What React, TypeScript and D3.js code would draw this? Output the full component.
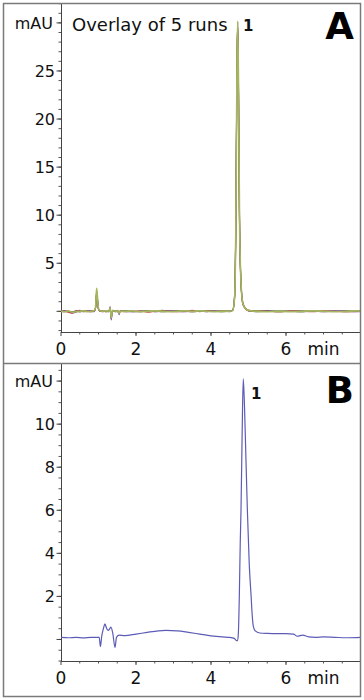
import React from "react";
import * as d3 from "d3";

// ---------- Data ----------
const tA = [0, 0.1, 0.2, 0.3, 0.4, 0.5, 0.6, 0.7, 0.8, 0.88,
  0.92, 0.95, 0.97, 1.0, 1.05, 1.1, 1.2, 1.28, 1.31, 1.34,
  1.37, 1.45, 1.52, 1.55, 1.58, 1.7, 1.9, 2.1, 2.3, 2.5,
  2.7, 2.9, 3.1, 3.3, 3.5, 3.7, 3.9, 4.1, 4.3, 4.5,
  4.58, 4.63, 4.66, 4.69, 4.71, 4.73, 4.76, 4.8, 4.85, 4.92,
  5.0, 5.2, 5.5, 5.8, 6.1, 6.4, 6.7, 7.0, 7.3, 7.6,
  7.9, 8.0];

const runA1 = [0.0, -0.05, 0.05, -0.1, -0.05, 0.0, 0.05, -0.05, 0.0, 0.05,
  0.4, 2.4, 1.6, 0.3, 0.05, 0.0, 0.05, 0.0, 0.4, -0.7,
  0.1, 0.0, 0.05, -0.2, 0.0, 0.0, 0.05, -0.05, 0.0, 0.05,
  0.0, -0.05, 0.0, 0.05, 0.0, 0.05, 0.0, -0.05, 0.0, 0.0,
  0.1, 1.5, 8.0, 24.0, 30.2, 25.0, 10.0, 3.0, 0.8, 0.3,
  0.1, 0.0, -0.05, 0.0, -0.05, 0.0, 0.05, 0.0, -0.05, 0.0,
  0.05, 0.0];
const runA2 = [0.05, 0.0, -0.1, -0.2, 0.0, 0.1, 0.0, 0.05, -0.05, 0.0,
  0.3, 1.8, 1.2, 0.2, 0.0, 0.05, -0.05, 0.05, 0.3, -0.5,
  0.0, 0.05, 0.0, -0.1, 0.05, -0.05, 0.0, 0.05, -0.1, 0.0,
  0.1, 0.0, -0.05, 0.0, 0.1, -0.05, 0.05, 0.0, 0.05, -0.05,
  0.15, 1.6, 8.3, 24.3, 30.0, 24.6, 9.6, 2.8, 0.7, 0.25,
  0.05, 0.05, 0.0, -0.05, 0.05, 0.0, -0.05, 0.05, 0.0, -0.05,
  0.0, 0.05];
const runA3 = [-0.05, 0.05, 0.0, -0.15, -0.1, 0.05, -0.05, 0.0, 0.05, -0.05,
  0.3, 1.9, 1.3, 0.25, 0.05, -0.05, 0.0, -0.05, 0.5, -0.9,
  0.05, -0.05, 0.1, -0.35, 0.05, 0.0, -0.05, 0.0, 0.05, -0.05,
  0.0, 0.05, 0.0, -0.05, 0.0, 0.0, -0.05, 0.05, 0.0, 0.05,
  0.1, 1.4, 7.8, 23.6, 30.1, 25.3, 10.2, 3.1, 0.9, 0.3,
  0.1, -0.05, 0.05, 0.0, 0.0, -0.05, 0.0, -0.05, 0.05, 0.0,
  -0.05, 0.0];
const runA4 = [0.0, 0.05, -0.05, -0.1, 0.05, -0.05, 0.0, 0.0, 0.05, 0.0,
  0.35, 2.0, 1.4, 0.25, 0.0, 0.0, 0.0, 0.05, 0.35, -0.8,
  0.05, 0.0, -0.05, -0.15, 0.0, 0.05, 0.0, -0.05, 0.0, 0.0,
  -0.05, 0.0, 0.05, 0.0, -0.05, 0.0, 0.05, 0.0, -0.05, 0.0,
  0.1, 1.7, 8.6, 24.5, 29.9, 24.4, 9.4, 2.9, 0.8, 0.3,
  0.05, 0.0, 0.05, -0.05, 0.0, 0.05, 0.0, 0.0, 0.0, 0.05,
  0.0, 0.0];
const runA5 = [0.05, -0.05, 0.0, -0.05, 0.0, -0.05, 0.05, 0.0, -0.05, 0.05,
  0.3, 2.1, 1.4, 0.2, 0.05, 0.0, -0.05, 0.0, 0.3, -0.6,
  0.0, 0.05, -0.05, -0.1, 0.0, 0.05, -0.05, 0.0, 0.05, -0.05,
  0.05, 0.0, 0.0, 0.05, -0.05, 0.05, 0.0, 0.0, 0.05, 0.0,
  0.12, 1.5, 8.2, 24.1, 30.1, 24.9, 9.9, 3.0, 0.8, 0.3,
  0.1, 0.05, 0.0, 0.05, 0.0, -0.05, 0.05, 0.0, 0.0, -0.05,
  0.05, 0.0];

const runsA = [runA4, runA2, runA3, runA5, runA1];
const runColors = ["#3c3c3c", "#c84848", "#8c3f9e", "#6f8a3e", "#a6b660"];

const tB = [0, 0.2, 0.4, 0.6, 0.8, 0.95, 1.02, 1.05, 1.09, 1.13,
  1.17, 1.22, 1.26, 1.3, 1.33, 1.38, 1.44, 1.48, 1.55, 1.7,
  2.0, 2.3, 2.6, 2.8, 3.1, 3.4, 3.7, 4.0, 4.3, 4.5,
  4.62, 4.68, 4.71, 4.73, 4.755, 4.78, 4.8, 4.83, 4.86, 4.89,
  4.93, 4.97, 5.02, 5.07, 5.1, 5.13, 5.18, 5.3, 5.5, 5.8,
  6.0, 6.2, 6.3, 6.45, 6.6, 6.8, 7.0, 7.3, 7.6, 8.0];
const vB = [0.1, 0.08, 0.1, 0.07, 0.1, 0.1, 0.1, -0.33, 0.2, 0.5,
  0.72, 0.5, 0.42, 0.5, 0.57, 0.3, -0.37, 0.1, 0.2, 0.18,
  0.25, 0.33, 0.4, 0.42, 0.4, 0.33, 0.25, 0.17, 0.12, 0.1,
  0.05, -0.05, -0.05, 0.3, 2.0, 4.5, 6.0, 9.5, 12.1, 11.0,
  8.5, 6.0, 3.5, 2.0, 1.1, 0.6, 0.4, 0.3, 0.28, 0.27,
  0.27, 0.25, 0.15, 0.2, 0.12, 0.1, 0.12, 0.1, 0.08, 0.1];

const xTickLabels = [0, 2, 4, 6];
const yTickLabelsA = [5, 10, 15, 20, 25];
const yTickLabelsB = [2, 4, 6, 8, 10];

// ---------- Layout ----------
const W = 364, H = 700;
const X0 = 61, X1 = 361;
const font = "'DejaVu Sans', Verdana, sans-serif";

type PanelProps = {
  top: number; bottom: number; yDomain: [number, number];
  minorStep: number; majorStep: number; yLabels: number[]; mauAt: number;
  letter: string; letterY: number;
  children: (x: d3.ScaleLinear<number, number>, y: d3.ScaleLinear<number, number>) => React.ReactNode;
};

function Panel({ top, bottom, yDomain, minorStep, majorStep, yLabels, mauAt, letter, letterY, children }: PanelProps) {
  const x = d3.scaleLinear().domain([0, 8]).range([X0, X1]);
  const y = d3.scaleLinear().domain(yDomain).range([bottom, top]);
  const minorY = d3.range(Math.ceil(yDomain[0] / minorStep) * minorStep, yDomain[1], minorStep);
  const majorY = d3.range(Math.ceil(yDomain[0] / majorStep) * majorStep, yDomain[1], majorStep);
  const minorX = d3.range(0.5, 8, 0.5);
  const id = "clip" + letter;
  return (
    <g>
      <defs>
        <clipPath id={id}>
          <rect x={X0} y={top} width={X1 - X0} height={bottom - top} />
        </clipPath>
      </defs>
      {minorY.map((v, i) => (
        <line key={"my" + i} x1={X0 - 2.5} x2={X0} y1={y(v)} y2={y(v)} stroke="#555" strokeWidth={1} />
      ))}
      {majorY.map((v, i) => (
        <line key={"My" + i} x1={X0 - 4.5} x2={X0} y1={y(v)} y2={y(v)} stroke="#444" strokeWidth={1} />
      ))}
      {yLabels.map((v) => (
        <text key={"yl" + v} x={X0 - 6} y={y(v)} dy="0.36em" textAnchor="end" fontSize={16} fontFamily={font} fill="#111">{v}</text>
      ))}
      <text x={X0 - 8} y={y(mauAt)} dy="0.36em" textAnchor="end" fontSize={16} fontFamily={font} fill="#111">mAU</text>
      {minorX.map((v, i) => (
        <line key={"mx" + i} x1={x(v)} x2={x(v)} y1={bottom} y2={bottom + 2.5} stroke="#555" strokeWidth={1} />
      ))}
      {xTickLabels.map((v) => (
        <g key={"xl" + v}>
          <line x1={x(v)} x2={x(v)} y1={bottom} y2={bottom + 4} stroke="#444" strokeWidth={1} />
          <text x={x(v)} y={bottom + 23} textAnchor="middle" fontSize={17} fontFamily={font} fill="#111">{v}</text>
        </g>
      ))}
      <text x={x(7)} y={bottom + 23} textAnchor="middle" fontSize={17} fontFamily={font} fill="#111">min</text>
      <line x1={X0 + 0.5} x2={X0 + 0.5} y1={top} y2={bottom} stroke="#444" strokeWidth={1} />
      <line x1={X0} x2={X1} y1={bottom + 0.5} y2={bottom + 0.5} stroke="#444" strokeWidth={1} />
      <g clipPath={`url(#${id})`}>{children(x, y)}</g>
      <text x={354} y={letterY} textAnchor="end" fontSize={37} fontWeight="bold" fontFamily={font} fill="#000">{letter}</text>
    </g>
  );
}

export default function App() {
  return (
    <svg width={W} height={H} viewBox={`0 0 ${W} ${H}`}
      style={{ position: "absolute", left: 0, top: 0, display: "block", background: "#fff" }}>
      <rect x={0} y={0} width={W} height={H} fill="#fff" />
      <Panel top={3} bottom={332} yDomain={[-2.15, 32.07]} minorStep={1} majorStep={5}
        yLabels={yTickLabelsA} mauAt={30} letter="A" letterY={39}>
        {(x, y) => {
          const line = d3.line<number>().x((_, i) => x(tA[i])).y((d) => y(d)).curve(d3.curveMonotoneX);
          return (
            <g>
              {runsA.map((r, k) => (
                <path key={k} d={line(r) || ""} fill="none" stroke={runColors[k]} strokeWidth={k === 4 ? 1.6 : 1.1} />
              ))}
            </g>
          );
        }}
      </Panel>
      <text x={72} y={31} fontSize={18} fontFamily={font} fill="#111">Overlay of 5 runs</text>
      <text x={243} y={31} fontSize={15} fontWeight="bold" fontFamily={font} fill="#111">1</text>

      <Panel top={363} bottom={661} yDomain={[-1.0, 12.84]} minorStep={0.5} majorStep={2}
        yLabels={yTickLabelsB} mauAt={12} letter="B" letterY={403}>
        {(x, y) => {
          const line = d3.line<number>().x((_, i) => x(tB[i])).y((d) => y(d)).curve(d3.curveMonotoneX);
          return <path d={line(vB) || ""} fill="none" stroke="#5c5cb6" strokeWidth={1.2} />;
        }}
      </Panel>
      <text x={251} y={399} fontSize={15} fontWeight="bold" fontFamily={font} fill="#111">1</text>

      <rect x={3.5} y={3.5} width={357} height={693} fill="none" stroke="#7a7a7a" strokeWidth={1.5} />
      <line x1={3} x2={361} y1={363.5} y2={363.5} stroke="#7a7a7a" strokeWidth={1.5} />
    </svg>
  );
}
